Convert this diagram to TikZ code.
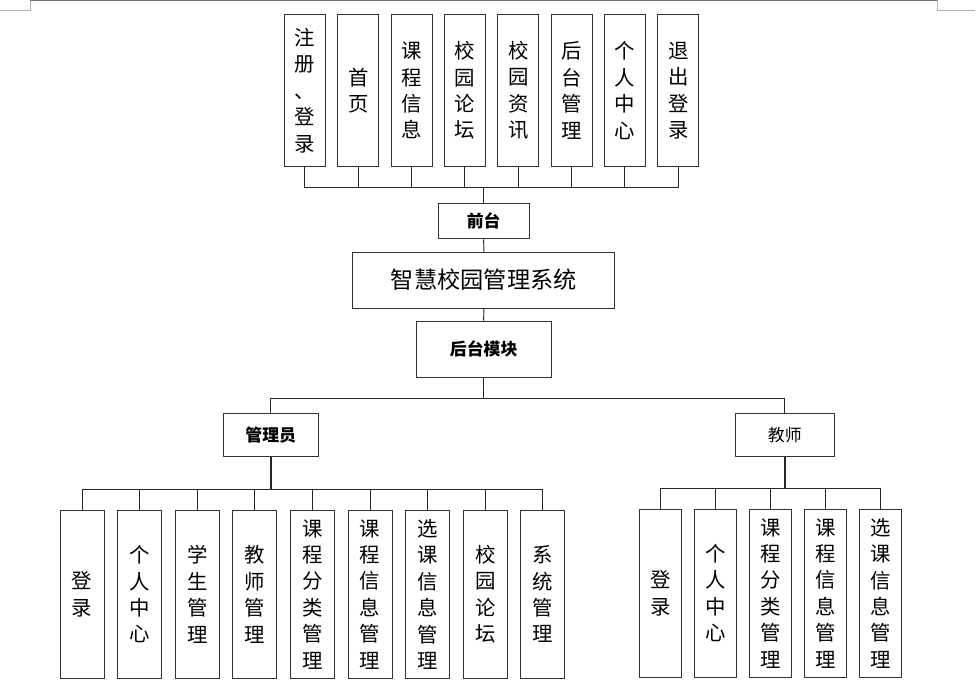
\documentclass[tikz,border=0pt]{standalone}
\usepackage{fontspec}
\newfontfamily\cjk{Noto Sans CJK SC}
\usetikzlibrary{positioning}

\begin{document}
\begin{tikzpicture}[
  x=0.025cm,y=-0.025cm,
  font=\cjk,
  box/.style={draw=black!80,line width=.7pt,fill=white,inner sep=0pt,align=center},
  vbox/.style={box,font=\cjk\fontsize{14.5}{18.8}\selectfont},
  topbox/.style={vbox,minimum width=1.025cm,minimum height=3.775cm},
  admbox/.style={vbox,minimum width=1.1cm,minimum height=4.2cm},
  teabox/.style={vbox,minimum width=1.05cm,minimum height=4.2cm},
  hbox/.style={box,font=\cjk\bfseries\fontsize{12}{14}\selectfont,minimum height=.89cm},
  link/.style={draw=black!85,line width=.7pt},
  heavy/.style={link,line width=1.5pt}
]
  \useasboundingbox (0,0) rectangle (980,692);
  % page corner marks
  \draw[black!30,line width=.6pt] (0,10) -- (30,10) -- (30,0);
  \draw[black!55,line width=.9pt] (30,0.6) -- (937,0.6);
  \draw[black!30,line width=.6pt] (937,0) -- (937,10) -- (975,10);

  % front end
  \node[topbox] (f1) at (304.8,90.5) {注\\册\\、\\登\\录};
  \node[topbox] (f2) at (358.2,90.5) {首\\页};
  \node[topbox] (f3) at (411.5,90.5) {课\\程\\信\\息};
  \node[topbox] (f4) at (464.8,90.5) {校\\园\\论\\坛};
  \node[topbox] (f5) at (518.2,90.5) {校\\园\\资\\讯};
  \node[topbox] (f6) at (571.5,90.5) {后\\台\\管\\理};
  \node[topbox] (f7) at (624.8,90.5) {个\\人\\中\\心};
  \node[topbox] (f8) at (678.2,90.5) {退\\出\\登\\录};
  \node[hbox,minimum width=2.27cm] (qt) at (483.7,221) {前台};
  \coordinate (qbus) at (483.7,187.3);
  \draw[link] (qt.north) -- (qbus);
  \draw[link] (f1.south) |- (qbus);
  \draw[link] (f2.south) |- (qbus);
  \draw[link] (f3.south) |- (qbus);
  \draw[link] (f4.south) |- (qbus);
  \draw[link] (f5.south) |- (qbus);
  \draw[link] (f6.south) |- (qbus);
  \draw[link] (f7.south) |- (qbus);
  \draw[link] (f8.south) |- (qbus);

  % system
  \node[box,font=\cjk\fontsize{16.5}{20}\selectfont,minimum width=6.55cm,minimum height=1.4cm] (sys) at (483.8,280) {智慧校园管理系统};
  \node[hbox,minimum width=3.375cm,minimum height=1.4cm] (ht) at (483.7,349) {后台模块};
  \draw[link] (qt.south) -- (sys.north);
  \draw[link] (sys.south) -- (ht.north);

  % roles
  \node[hbox,minimum width=2.375cm,minimum height=1.07cm] (gly) at (270.7,435.3) {管理员};
  \node[hbox,font=\cjk\fontsize{12}{14}\selectfont,minimum width=2.475cm,minimum height=1.07cm] (js) at (784.8,435.3) {教师};
  \coordinate (hbus) at (483.7,398.3);
  \draw[link] (ht.south) -- (hbus);
  \draw[link] (hbus) -| (gly.north);
  \draw[link] (hbus) -| (js.north);

  % admin modules
  \node[admbox] (a1) at (82,594.3) {登\\录};
  \node[admbox] (a2) at (139.6,594.3) {个\\人\\中\\心};
  \node[admbox] (a3) at (197.2,594.3) {学\\生\\管\\理};
  \node[admbox] (a4) at (254.8,594.3) {教\\师\\管\\理};
  \node[admbox] (a5) at (312.4,594.3) {课\\程\\分\\类\\管\\理};
  \node[admbox] (a6) at (370,594.3) {课\\程\\信\\息\\管\\理};
  \node[admbox] (a7) at (427.6,594.3) {选\\课\\信\\息\\管\\理};
  \node[admbox] (a8) at (485.2,594.3) {校\\园\\论\\坛};
  \node[admbox] (a9) at (542.8,594.3) {系\\统\\管\\理};
  \coordinate (gbus) at (270.7,489);
  \draw[heavy] (gly.south) -- (gbus);
  \draw[link] (gbus) -| (a1.north);
  \draw[link] (gbus) -| (a2.north);
  \draw[link] (gbus) -| (a3.north);
  \draw[link] (gbus) -| (a4.north);
  \draw[link] (gbus) -| (a5.north);
  \draw[link] (gbus) -| (a6.north);
  \draw[link] (gbus) -| (a7.north);
  \draw[link] (gbus) -| (a8.north);
  \draw[link] (gbus) -| (a9.north);

  % teacher modules
  \node[teabox] (t1) at (660.3,593.2) {登\\录};
  \node[teabox] (t2) at (715.3,593.2) {个\\人\\中\\心};
  \node[teabox] (t3) at (770.3,593.2) {课\\程\\分\\类\\管\\理};
  \node[teabox] (t4) at (825.3,593.2) {课\\程\\信\\息\\管\\理};
  \node[teabox] (t5) at (880.3,593.2) {选\\课\\信\\息\\管\\理};
  \coordinate (jbus) at (784.8,488.3);
  \draw[heavy] (js.south) -- (jbus);
  \draw[link] (jbus) -| (t1.north);
  \draw[link] (jbus) -| (t2.north);
  \draw[link] (jbus) -| (t3.north);
  \draw[link] (jbus) -| (t4.north);
  \draw[link] (jbus) -| (t5.north);
\end{tikzpicture}
\end{document}
